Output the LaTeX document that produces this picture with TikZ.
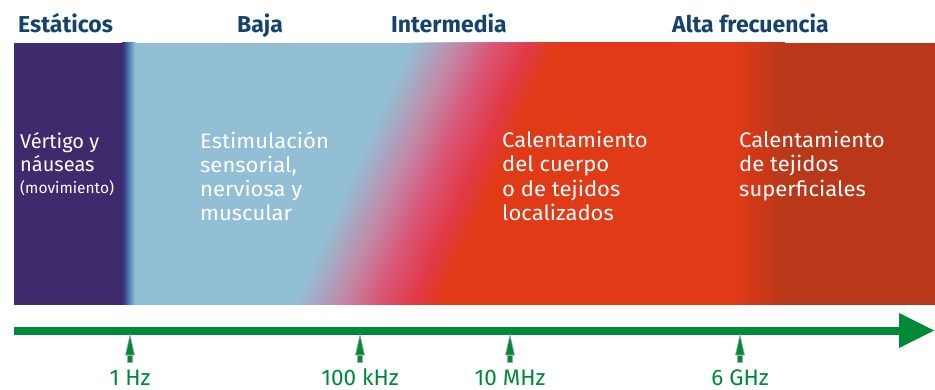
\documentclass[tikz,border=0pt]{standalone}
\usepackage{fontspec}
\setmainfont{Fira Sans}
\newfontfamily\wideface{Fira Sans}[FakeStretch=1.05]
\definecolor{purp}{RGB}{63,42,110}
\definecolor{lblue}{RGB}{146,191,214}
\definecolor{dblue}{RGB}{45,70,135}
\definecolor{mblue}{RGB}{95,135,185}
\definecolor{mauve}{RGB}{192,140,170}
\definecolor{pinkc}{RGB}{216,88,122}
\definecolor{crim}{RGB}{226,58,72}
\definecolor{ored}{RGB}{224,58,22}
\definecolor{dred}{RGB}{185,56,26}
\definecolor{hblue}{RGB}{20,68,110}
\definecolor{agreen}{RGB}{0,137,54}
\pgfdeclarehorizontalshading{pbshade}{100bp}{color(0bp)=(purp); color(25bp)=(purp); color(33bp)=(dblue); color(55bp)=(mblue); color(75bp)=(lblue); color(100bp)=(lblue)}
\pgfdeclarehorizontalshading{rrshade}{100bp}{color(0bp)=(ored); color(25bp)=(ored); color(75bp)=(dred); color(100bp)=(dred)}
\newcommand\gradseg[4]{%
  \foreach \j in {0,...,15}{%
    \pgfmathsetmacro\xb{293+147*(#3+(#4-#3)*\j/15)}%
    \pgfmathtruncatemacro\pp{100*\j/15}%
    \fill[#2!\pp!#1] (\xb,305) -- (\xb+117,43) -- (760,43) -- (760,305) -- cycle;
  }}
\begin{document}
\begin{tikzpicture}[x=1pt,y=-1pt,
  header/.style={anchor=base west, inner sep=0pt, text=hblue, font=\bfseries\fontsize{23}{26}\selectfont},
  body/.style={anchor=north west, inner sep=0pt, text=white, align=left, font=\wideface\fontsize{21}{24.3}\selectfont},
  freq/.style={anchor=base, inner sep=0pt, text=agreen, font=\fontsize{22.5}{24}\selectfont},
  tickarrow/.style={fill=agreen, draw=gray!70, line width=0.7pt}]
\useasboundingbox (0,0) rectangle (935,390);
% band
\fill[lblue] (130,43) rectangle (935,305);
\gradseg{lblue}{mauve}{0}{0.3}
\gradseg{mauve}{pinkc}{0.3}{0.55}
\gradseg{pinkc}{crim}{0.55}{0.8}
\gradseg{crim}{ored}{0.8}{1}
\fill[purp] (14,43) rectangle (123,305);
\shade[shading=pbshade] (122,43) rectangle (135,305);
\shade[shading=rrshade] (735,43) rectangle (785,305);
\fill[dred] (784.5,43) rectangle (935,305);
% headers
\node[header] (h1) at (18,33) {Estáticos};
\node[header] (h2) at (237,33) {Baja};
\node[header] (h3) at (391,33) {Intermedia};
\node[header] (h4) at (672,33) {Alta frecuencia};
% body texts
\node[body, font=\fontsize{20}{23.5}\selectfont] (t1) at (20,132) {Vértigo y\\náuseas\\[-2pt]{\fontsize{15.5}{18}\selectfont(movimiento)}};
\node[body] (t2) at (200,131) {Estimulación\\sensorial,\\nerviosa y\\muscular};
\node[body] (t3) at (502,131) {Calentamiento\\del cuerpo\\o de tejidos\\localizados};
\node[body] (t4) at (739,131) {Calentamiento\\de tejidos\\superficiales};
% axis
\coordinate (axs) at (14,331);
\coordinate (axe) at (901,331);
\draw[agreen, line width=8pt] (axs) -- (axe);
\fill[agreen] (899,313) -- (934,330.5) -- (899,348) -- cycle;
% ticks
\foreach \x/\lab/\nm in {130/1 Hz/f1, 360/100 kHz/f2, 510/10 MHz/f3, 740/6 GHz/f4}{
  \draw[tickarrow] (\x,335) -- (\x+4.5,355) -- (\x-4.5,355) -- cycle;
  \draw[tickarrow] (\x-2.5,355) rectangle (\x+2.5,362);
  \node[freq] (\nm) at (\x,385) {\lab};
}
\end{tikzpicture}
\end{document}
